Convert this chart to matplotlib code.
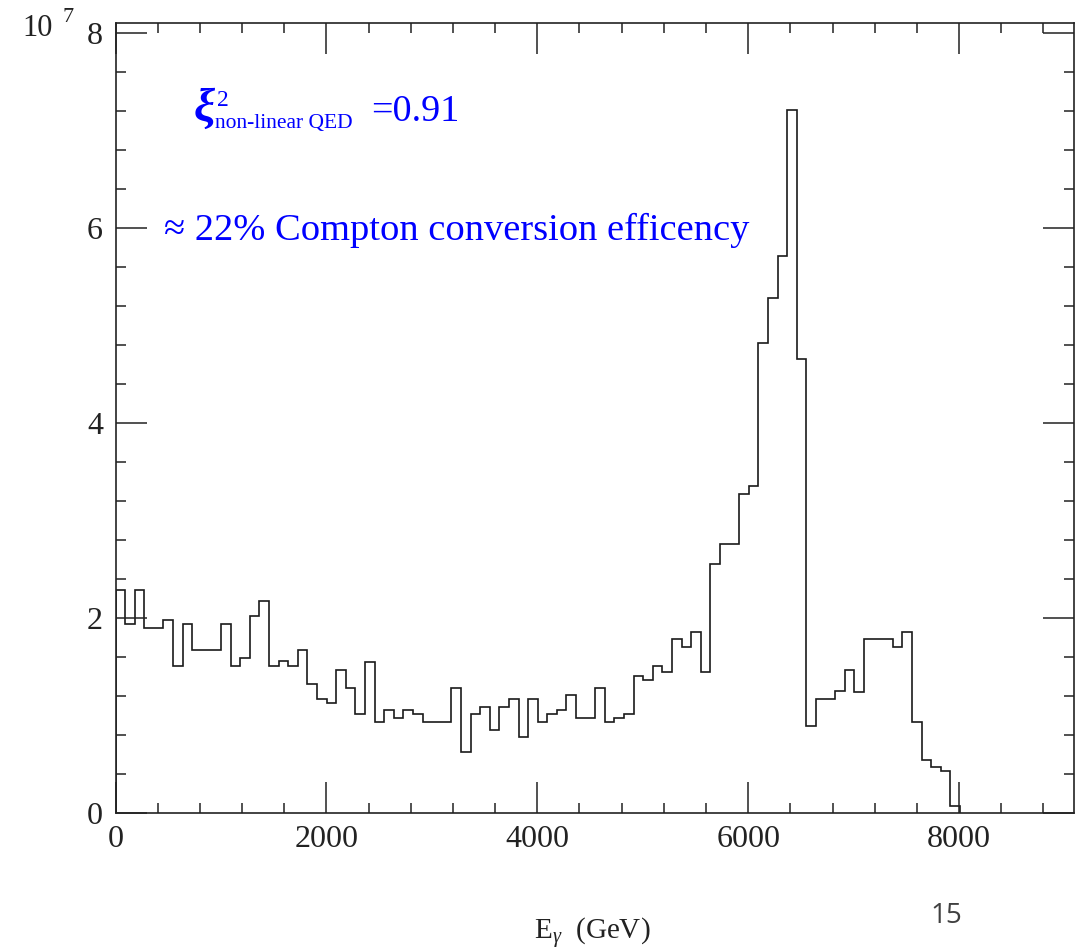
import numpy as np
import matplotlib
matplotlib.use('Agg')
import matplotlib.pyplot as plt
from matplotlib.ticker import MultipleLocator, FormatStrFormatter

# photon energy spectrum, counts per bin in units of 10^7
bin_width = 91
counts = [2.29, 1.94, 2.29, 1.90, 1.90, 1.98, 1.51, 1.94, 1.67, 1.67,
          1.67, 1.94, 1.51, 1.59, 2.02, 2.17, 1.51, 1.56, 1.51, 1.67,
          1.32, 1.17, 1.13, 1.47, 1.28, 1.01, 1.55, 0.93, 1.05, 0.97,
          1.05, 1.01, 0.93, 0.93, 0.93, 1.28, 0.62, 1.01, 1.09, 0.85,
          1.09, 1.17, 0.78, 1.17, 0.93, 1.01, 1.05, 1.21, 0.97, 0.97,
          1.28, 0.93, 0.97, 1.01, 1.40, 1.36, 1.51, 1.44, 1.78, 1.70,
          1.86, 1.44, 2.55, 2.76, 2.76, 3.27, 3.35, 4.82, 5.28, 5.71,
          7.21, 4.66, 0.89, 1.17, 1.17, 1.25, 1.47, 1.24, 1.78, 1.78,
          1.78, 1.70, 1.86, 0.93, 0.54, 0.47, 0.43, 0.07]
x_major = [0, 2000, 4000, 6000, 8000]
y_major = [0, 2, 4, 6, 8]

plt.rcParams['mathtext.fontset'] = 'custom'
plt.rcParams['mathtext.rm'] = 'Liberation Serif'
plt.rcParams['mathtext.it'] = 'Liberation Serif:italic'

W, H = 1081, 950
fig = plt.figure(figsize=(W / 100, H / 100), dpi=100)

def px(x, y):
    return x / W, 1 - y / H

ax = fig.add_axes([115.5 / W, 1 - 812.7 / H, (1074 - 115.5) / W, (812.7 - 22.7) / H])

edges = np.arange(len(counts) + 1) * bin_width
ax.stairs(counts, edges, color='#1a1a1a', lw=1.2, baseline=0)

ax.set_xlim(0, 9090)
ax.set_ylim(0, 8.11)
ax.set_xticks(x_major)
ax.set_yticks(y_major)
ax.xaxis.set_minor_locator(MultipleLocator(400))
ax.yaxis.set_minor_locator(MultipleLocator(0.4))
ax.yaxis.set_major_formatter(FormatStrFormatter('%d'))
ax.tick_params(which='both', direction='in', top=True, right=True,
               width=1.1, color='#222222', labelcolor='#222222',
               labelsize=23, pad=9)
ax.tick_params(which='major', length=22)
ax.tick_params(which='minor', length=7.5)
for lab in ax.get_xticklabels() + ax.get_yticklabels():
    lab.set_family('Liberation Serif')
for s in ax.spines.values():
    s.set_linewidth(1.2)
    s.set_color('#222222')

# exponent label
fig.text(*px(22, 36), '10', fontsize=22, family='Liberation Serif', color='#222222')
fig.text(*px(63, 22), '7', fontsize=16, family='Liberation Serif', color='#222222')

# axis title
fig.text(*px(592, 940), r'E$_\gamma$  (GeV)', ha='center', fontsize=21,
         family='Liberation Serif', color='#222222')

# blue annotations
blue = '#0000ff'
fig.text(*px(194, 121), '\u03be', fontsize=34, family='Liberation Serif',
         style='italic', weight='bold', color=blue)
fig.text(*px(217, 106), '2', fontsize=17, family='Liberation Serif', color=blue)
fig.text(*px(215, 128), 'non-linear QED', fontsize=15.5, family='Liberation Serif', color=blue)
fig.text(*px(371, 121), '=0.91', fontsize=27.5, family='Liberation Serif', color=blue)
fig.text(*px(164, 240), '\u2248 22% Compton conversion efficency', fontsize=27.7,
         family='Liberation Serif', color=blue)

# slide number
fig.text(*px(930, 923), '15', fontsize=20, family='Open Sans', color='#404040')

fig.savefig('out.png', dpi=100)
